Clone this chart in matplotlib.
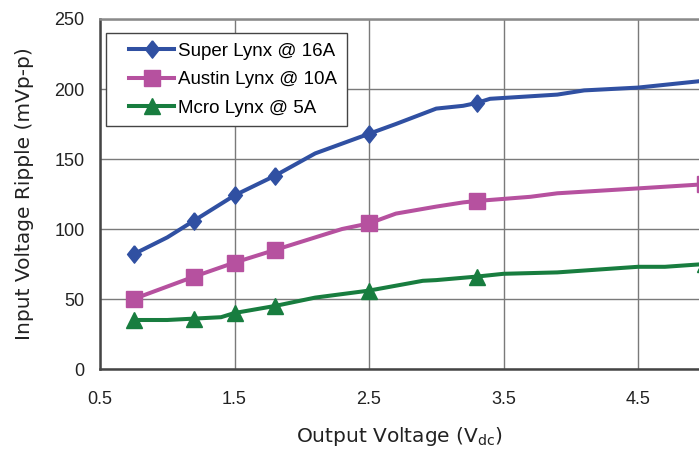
import matplotlib
matplotlib.use('Agg')
import matplotlib.pyplot as plt
from matplotlib import rcParams
from matplotlib.legend_handler import HandlerLine2D

rcParams['font.family'] = 'Liberation Sans'

# Input ripple vs output voltage
super_x = [0.75, 1.0, 1.2, 1.5, 1.8, 2.1, 2.5, 2.7, 3.0, 3.2, 3.3, 3.4, 3.9, 4.1, 4.5, 4.8, 5.0]
super_y = [82, 94, 106, 124, 138, 154, 168, 175, 186, 188, 190, 193, 196, 199, 201, 204, 206]
super_marks = [0, 2, 3, 4, 6, 10, 16]

austin_x = [0.75, 1.2, 1.5, 1.8, 2.1, 2.3, 2.5, 2.7, 3.0, 3.2, 3.3, 3.7, 3.9, 4.5, 5.0]
austin_y = [50, 66, 76, 85, 94, 100, 104, 111, 116, 119, 120, 123, 125.5, 129, 132]
austin_marks = [0, 1, 2, 3, 6, 10, 14]

micro_x = [0.75, 1.0, 1.2, 1.4, 1.5, 1.8, 2.1, 2.5, 2.9, 3.0, 3.3, 3.5, 3.9, 4.5, 4.7, 5.0]
micro_y = [35, 35, 36, 37, 40, 45, 51, 56, 63, 63.5, 66, 68, 69, 73, 73, 75]
micro_marks = [0, 2, 4, 5, 7, 10, 15]

x_ticks = [0.5, 1.5, 2.5, 3.5, 4.5]
y_ticks = [0, 50, 100, 150, 200, 250]

BLUE = '#3050A2'
PINK = '#B6519F'
GREEN = '#187D3F'

# slightly tall diamond like the datasheet marker
diamond = [(0, 1), (0.8, 0), (0, -1), (-0.8, 0), (0, 1)]

fig = plt.figure(figsize=(6.99, 4.5), dpi=100)
ax = fig.add_axes([100 / 699, 81 / 450, 599 / 699, 350 / 450])

ax.plot(super_x, super_y, color=BLUE, lw=2.9, marker=diamond, ms=12.5,
        markevery=super_marks, label='Super Lynx @ 16A', zorder=3)
ax.plot(austin_x, austin_y, color=PINK, lw=2.9, marker='s', ms=11,
        markevery=austin_marks, label='Austin Lynx @ 10A', zorder=3)
ax.plot(micro_x, micro_y, color=GREEN, lw=2.9, marker='^', ms=11,
        markevery=micro_marks, label='Mcro Lynx @ 5A', zorder=3)

ax.set_xlim(0.5, 0.5 + 599 / 134.5)
ax.set_ylim(0, 250)
ax.set_xticks(x_ticks)
ax.set_xticklabels(['0.5', '1.5', '2.5', '3.5', '4.5'])
ax.set_yticks(y_ticks)
ax.tick_params(axis='both', length=0, labelsize=13, colors='#222222')
ax.tick_params(axis='x', pad=16)
ax.tick_params(axis='y', pad=11)

ax.grid(True, color='#7a7a7a', lw=1.0)
ax.set_axisbelow(True)

ax.spines['right'].set_visible(False)
ax.spines['left'].set_color('#454545')
ax.spines['bottom'].set_color('#454545')
ax.spines['top'].set_color('#8a8a8a')
for s in ['left', 'bottom', 'top']:
    ax.spines[s].set_linewidth(1.8)

ax.set_ylabel('Input Voltage Ripple (mVp-p)', fontfamily='DejaVu Sans',
              fontsize=14.5, color='#222222', labelpad=15)
ax.set_xlabel('Output Voltage (V$_{\\mathregular{dc}}$)', fontfamily='DejaVu Sans',
              fontsize=14.5, color='#222222', labelpad=12)

hmap = {l: HandlerLine2D(xpad=0.75) for l in ax.get_lines()}
leg = ax.legend(loc='upper left', bbox_to_anchor=(0.01, 0.96), borderaxespad=0,
                fontsize=13.5, fancybox=False, framealpha=1, handlelength=3.15,
                handletextpad=0.2, borderpad=0.5, labelspacing=0.62,
                handler_map=hmap)
leg.get_frame().set_edgecolor('#444444')
leg.get_frame().set_linewidth(1.0)

fig.savefig('out.png', dpi=100)
